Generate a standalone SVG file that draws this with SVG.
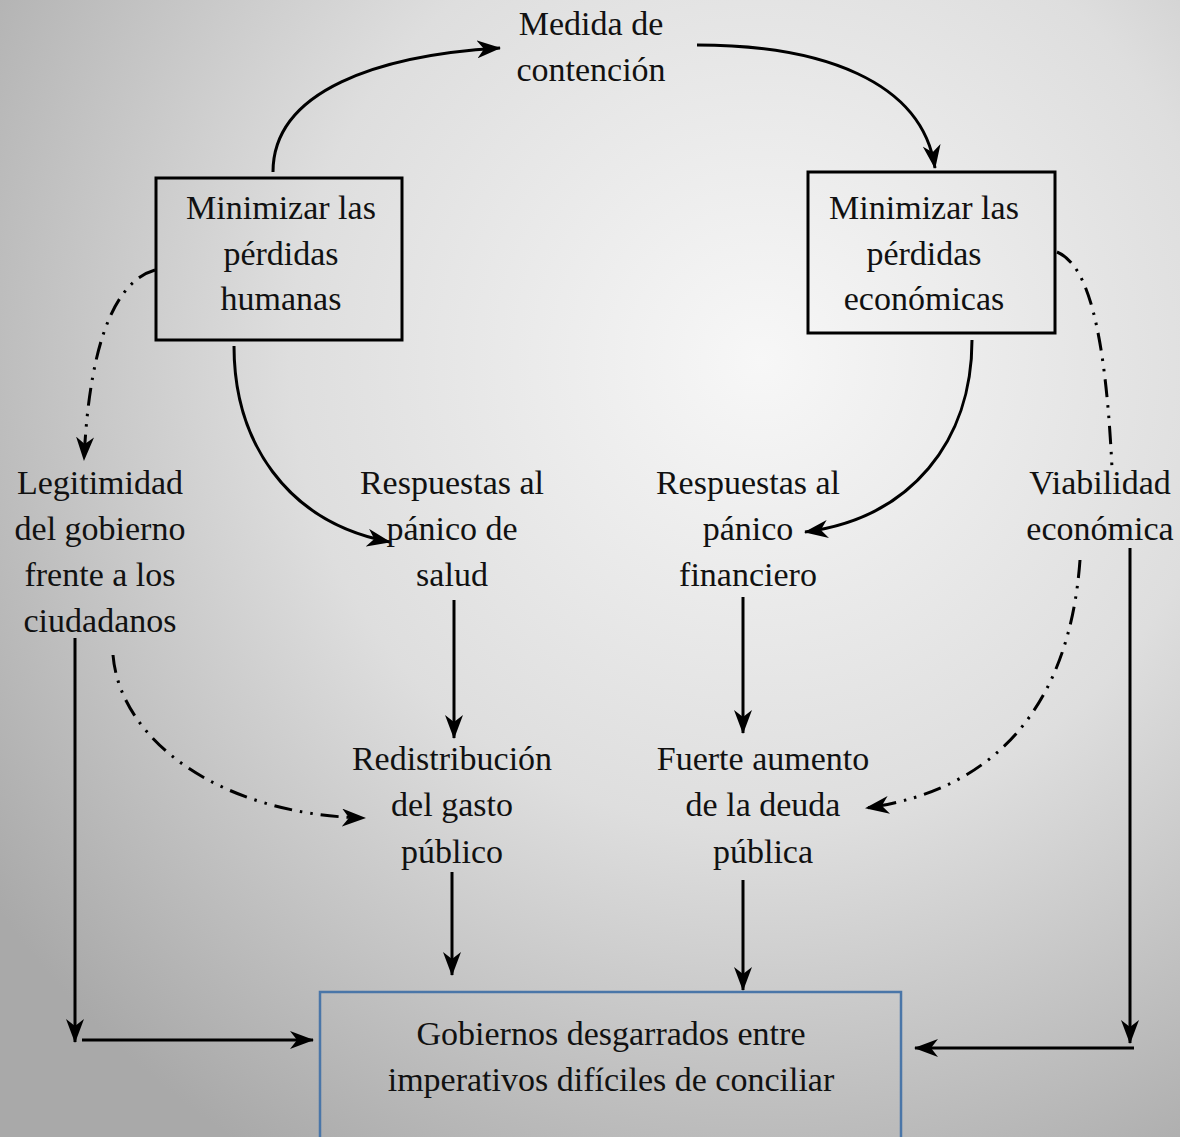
<svg xmlns="http://www.w3.org/2000/svg" width="1180" height="1137" viewBox="0 0 1180 1137">
<defs>
<radialGradient id="bg" gradientUnits="userSpaceOnUse" cx="760" cy="360" r="940">
<stop offset="0" stop-color="#f7f7f7"/>
<stop offset="0.5" stop-color="#dedede"/>
<stop offset="1" stop-color="#a9a9a9"/>
</radialGradient>
<marker id="ah" viewBox="0 0 24 18" refX="23" refY="9" markerWidth="24" markerHeight="18" markerUnits="userSpaceOnUse" orient="auto">
<path d="M0,0 L24,9 L0,18 L7,9 z" fill="#000"/>
</marker>
</defs>
<style>
text{font-family:"Liberation Serif","Times New Roman",serif;font-size:34px;fill:#111;text-anchor:middle}
.box{fill:none;stroke:#000;stroke-width:3}
.c{fill:none;stroke:#000;stroke-width:3}
.a{marker-end:url(#ah)}
.d{fill:none;stroke:#000;stroke-width:3;stroke-dasharray:18 8 2.5 8 2.5 8}
</style>
<rect x="0" y="0" width="1180" height="1137" fill="url(#bg)"/>

<g id="connectors">
<path class="c a" d="M273,172 C273,90 380,55 500,48"/>
<path class="c a" d="M697,45 C820,45 922,80 935,168"/>
<path class="c a" d="M234,346 C234,440 285,522 390,542"/>
<path class="c a" d="M972,340 C972,440 912,518 805,532"/>
<path class="d a" d="M155,270 C120,280 90,330 84,460"/>
<path class="d" d="M1057,252 C1080,262 1104,300 1112,468"/>
<path class="d a" d="M113,655 C120,740 220,815 365,818"/>
<path class="d a" d="M1080,560 C1070,700 1000,790 866,808"/>
<path class="c a" d="M454,600 L454,738"/>
<path class="c a" d="M743,597 L743,733"/>
<path class="c a" d="M452,872 L452,975"/>
<path class="c a" d="M743,880 L743,990"/>
<path class="c a" d="M75,638 L75,1042"/>
<path class="c a" d="M82,1040 L313,1040"/>
<path class="c a" d="M1130,548 L1130,1043"/>
<path class="c a" d="M1134,1048 L915,1048"/>
</g>

<g id="n-medida">
<text x="591" y="35">Medida de</text>
<text x="591" y="81">contención</text>
</g>
<g id="n-humanas">
<rect class="box" x="156" y="178" width="246" height="162"/>
<text x="281" y="219">Minimizar las</text>
<text x="281" y="265">pérdidas</text>
<text x="281" y="310">humanas</text>
</g>
<g id="n-economicas">
<rect class="box" x="808" y="172" width="247" height="161"/>
<text x="924" y="219">Minimizar las</text>
<text x="924" y="265">pérdidas</text>
<text x="924" y="310">económicas</text>
</g>
<g id="n-legitimidad">
<text x="100" y="494">Legitimidad</text>
<text x="100" y="540">del gobierno</text>
<text x="100" y="586">frente a los</text>
<text x="100" y="632">ciudadanos</text>
</g>
<g id="n-salud">
<text x="452" y="494">Respuestas al</text>
<text x="452" y="540">pánico de</text>
<text x="452" y="586">salud</text>
</g>
<g id="n-financiero">
<text x="748" y="494">Respuestas al</text>
<text x="748" y="540">pánico</text>
<text x="748" y="586">financiero</text>
</g>
<g id="n-viabilidad">
<text x="1100" y="494">Viabilidad</text>
<text x="1100" y="540">económica</text>
</g>
<g id="n-redistribucion">
<text x="452" y="770">Redistribución</text>
<text x="452" y="816">del gasto</text>
<text x="452" y="863">público</text>
</g>
<g id="n-deuda">
<text x="763" y="770">Fuerte aumento</text>
<text x="763" y="816">de la deuda</text>
<text x="763" y="863">pública</text>
</g>
<g id="n-gobiernos">
<rect x="320" y="992" width="581" height="160" fill="none" stroke="#4a76a8" stroke-width="2.5"/>
<text x="611" y="1045">Gobiernos desgarrados entre</text>
<text x="611" y="1091">imperativos difíciles de conciliar</text>
</g>
</svg>
